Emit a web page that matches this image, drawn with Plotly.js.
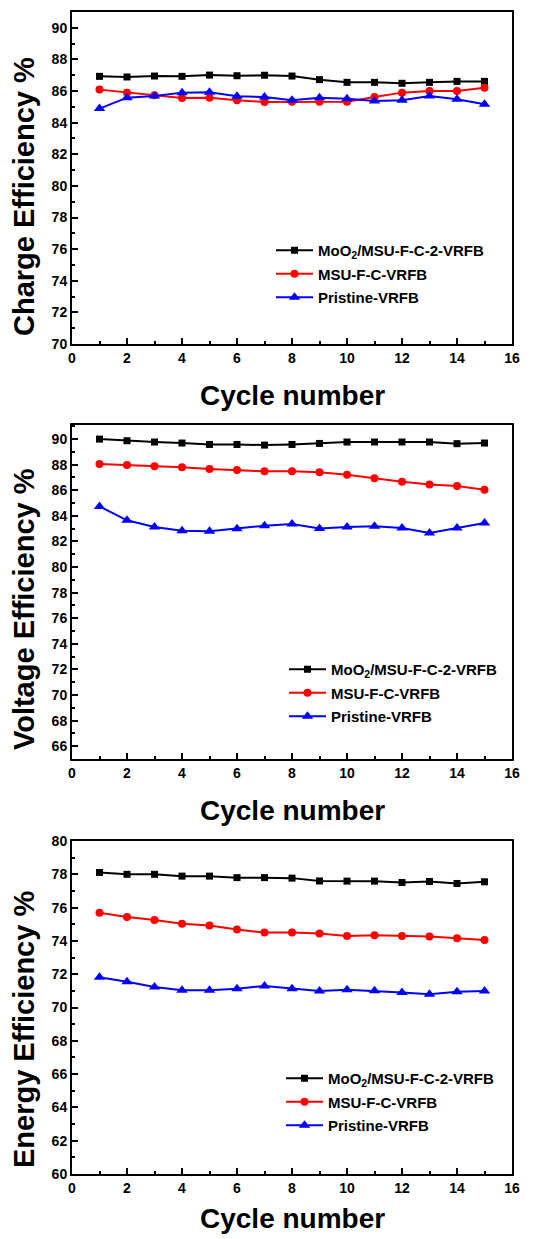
<!DOCTYPE html>
<html>
<head>
<meta charset="utf-8">
<script src="https://cdn.plot.ly/plotly-3.0.1.min.js"></script>
<style>
  html, body { margin: 0; padding: 0; background: #fff; }
  #chart { width: 536px; height: 1239px; }
</style>
</head>
<body>
<div id="chart"></div>
<script>
// ---- Data ----
const cycles = [1,2,3,4,5,6,7,8,9,10,11,12,13,14,15];
const seriesNames = ["MoO<sub>2</sub>/MSU-F-C-2-VRFB", "MSU-F-C-VRFB", "Pristine-VRFB"];

// Charge efficiency %
const ceMoO2 = [86.93,86.89,86.95,86.93,87.01,86.97,87.00,86.95,86.72,86.55,86.55,86.49,86.55,86.61,86.61];
const ceMSU  = [86.09,85.90,85.73,85.56,85.58,85.42,85.31,85.33,85.33,85.33,85.63,85.90,86.00,86.00,86.21];
const cePris = [84.89,85.58,85.69,85.90,85.92,85.67,85.63,85.42,85.58,85.52,85.37,85.42,85.69,85.48,85.16];

// Voltage efficiency %
const veMoO2 = [90.00,89.87,89.77,89.69,89.58,89.58,89.53,89.58,89.66,89.77,89.77,89.77,89.77,89.64,89.69];
const veMSU  = [88.05,87.97,87.87,87.79,87.66,87.58,87.48,87.48,87.40,87.21,86.93,86.67,86.46,86.33,86.04];
const vePris = [84.74,83.65,83.13,82.84,82.79,83.00,83.23,83.36,83.02,83.13,83.18,83.05,82.66,83.05,83.44];

// Energy efficiency %
const eeMoO2 = [78.11,78.00,78.00,77.89,77.89,77.80,77.80,77.77,77.60,77.59,77.59,77.51,77.57,77.45,77.55];
const eeMSU  = [75.69,75.43,75.25,75.03,74.92,74.68,74.50,74.50,74.44,74.30,74.34,74.30,74.26,74.16,74.06];
const eePris = [71.82,71.55,71.23,71.03,71.03,71.13,71.29,71.13,70.99,71.07,71.00,70.90,70.79,70.95,70.99];

const xTicks = [0,2,4,6,8,10,12,14,16];
const yTitles = ["Charge Efficiency %", "Voltage Efficiency %", "Energy Efficiency %"];
const xTitle = "Cycle number";

// ---- Styles ----
const FONT = "Arial, 'Liberation Sans', Helvetica, sans-serif";
const styles = [
  {color: "#000000", symbol: "square", size: 7},
  {color: "#ff0000", symbol: "circle", size: 8},
  {color: "#0000ff", symbol: "triangle-up", size: 10}
];

const panels = [
  {data: [ceMoO2, ceMSU, cePris], range: [70, 91]},
  {data: [veMoO2, veMSU, vePris], range: [65, 91.1]},
  {data: [eeMoO2, eeMSU, eePris], range: [60, 80]}
];

// pixel geometry (top, bottom) of each frame
const H = 1239, W = 536;
const frames = [[12, 344], [425, 759], [841, 1174]];
const xDom = [72 / W, 512 / W];
const legendPos = [
  {x: 271 / W, top: 234},
  {x: 284 / W, top: 653},
  {x: 281 / W, top: 1062}
];
const yTitlePos = [197, 609, 1030];
const xTitlePos = [395, 810, 1218];

const traces = [];
const layout = {
  width: W, height: H,
  margin: {l: 0, r: 0, t: 0, b: 0},
  paper_bgcolor: "#fff",
  plot_bgcolor: "#fff",
  showlegend: true,
  font: {family: FONT, color: "#000"},
  annotations: []
};

panels.forEach((p, i) => {
  const n = i === 0 ? "" : String(i + 1);
  const legName = "legend" + n;
  p.data.forEach((vals, k) => {
    traces.push({
      type: "scatter", mode: "lines+markers",
      x: cycles, y: vals,
      xaxis: "x" + n, yaxis: "y" + n,
      name: seriesNames[k],
      legend: legName,
      legendgroup: "g" + i + "_" + k,
      line: {color: styles[k].color, width: 2},
      marker: {color: styles[k].color, symbol: styles[k].symbol, size: styles[k].size}
    });
  });
  const [top, bot] = frames[i];
  const axCommon = {
    showline: true, linewidth: 2, linecolor: "#000", mirror: true,
    ticks: "inside", ticklen: 6, tickwidth: 2, tickcolor: "#000",
    showgrid: false, zeroline: false, automargin: false,
    tickfont: {family: FONT, size: 14, weight: 700, color: "#000"},
    minor: {ticks: "inside", ticklen: 3, tickwidth: 2, tickcolor: "#000", dtick: 1, showgrid: false}
  };
  layout["xaxis" + n] = Object.assign({}, axCommon, {
    domain: xDom, range: [0, 16], anchor: "y" + n,
    tickmode: "array", tickvals: xTicks, ticktext: xTicks.map(String)
  });
  layout["yaxis" + n] = Object.assign({}, axCommon, {
    domain: [1 - bot / H, 1 - top / H], range: p.range, anchor: "x" + n,
    dtick: 2, tick0: 0
  });
  layout[legName] = {
    x: legendPos[i].x, xanchor: "left",
    y: 1 - legendPos[i].top / H, yanchor: "top",
    bgcolor: "rgba(0,0,0,0)", borderwidth: 0,
    font: {family: FONT, size: 15, weight: 700, color: "#000"},
    itemwidth: 37, tracegroupgap: 1
  };
  layout.annotations.push({
    xref: "paper", yref: "paper", x: 24 / W, y: 1 - yTitlePos[i] / H,
    xanchor: "center", yanchor: "middle", textangle: -90, showarrow: false,
    text: yTitles[i], font: {family: FONT, size: 29, weight: 700, color: "#000"}
  });
  layout.annotations.push({
    xref: "paper", yref: "paper", x: 292 / W, y: 1 - xTitlePos[i] / H,
    xanchor: "center", yanchor: "middle", showarrow: false,
    text: xTitle, font: {family: FONT, size: 28, weight: 700, color: "#000"}
  });
});

Plotly.newPlot("chart", traces, layout, {displayModeBar: false, staticPlot: true});
</script>
</body>
</html>
